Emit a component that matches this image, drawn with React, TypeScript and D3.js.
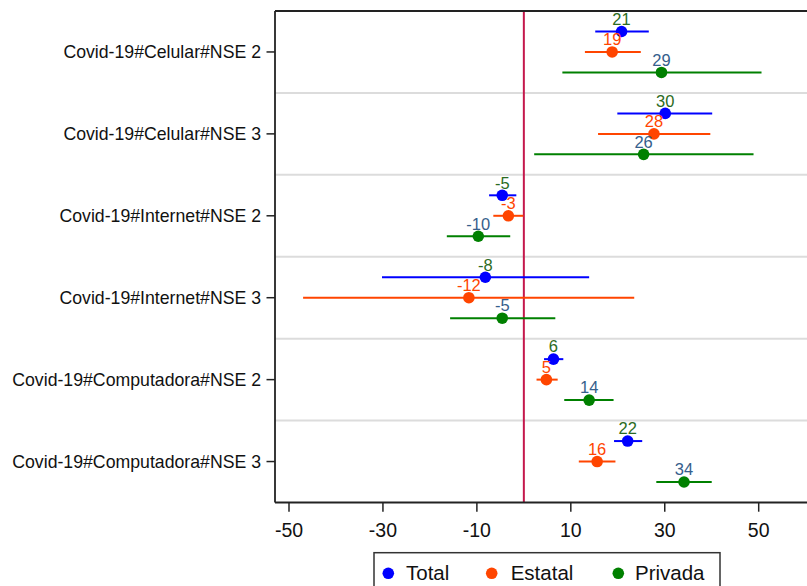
import React from "react";
import * as d3 from "d3";

const categories = [
  "Covid-19#Celular#NSE 2",
  "Covid-19#Celular#NSE 3",
  "Covid-19#Internet#NSE 2",
  "Covid-19#Internet#NSE 3",
  "Covid-19#Computadora#NSE 2",
  "Covid-19#Computadora#NSE 3",
];

const seriesNames = ["Total", "Estatal", "Privada"];

const totalEst = [20.8, 30.1, -4.6, -8.2, 6.3, 22.1];
const totalLo = [15.2, 19.9, -7.4, -30.2, 4.3, 19.2];
const totalHi = [26.6, 40.1, -1.6, 13.9, 8.4, 25.2];
const totalLabels = ["21", "30", "-5", "-8", "6", "22"];

const estatalEst = [18.8, 27.7, -3.3, -11.7, 4.8, 15.6];
const estatalLo = [13.0, 15.8, -6.5, -47.0, 2.7, 11.7];
const estatalHi = [24.9, 39.7, -0.1, 23.5, 7.2, 19.5];
const estatalLabels = ["19", "28", "-3", "-12", "5", "16"];

const privadaEst = [29.3, 25.5, -9.7, -4.6, 13.9, 34.1];
const privadaLo = [8.2, 2.2, -16.4, -15.7, 8.6, 28.2];
const privadaHi = [50.6, 48.9, -2.9, 6.7, 19.1, 40.0];
const privadaLabels = ["29", "26", "-10", "-5", "14", "34"];

const xTicks = [-50, -30, -10, 10, 30, 50];

const markerColors = ["#0000ff", "#ff4500", "#008000"];
const labelColors = ["#2c6b22", "#ff4500", "#36608c"];

const FONT = "Arial, 'Liberation Sans', sans-serif";

export default function App() {
  const W = 807;
  const H = 586;
  const left = 275;
  const top = 11;
  const bottom = 502.5;
  const right = 830;

  const x = d3.scaleLinear().domain([-50, 50]).range([289, 758.7]);
  const y = d3.scaleBand<string>().domain(categories).range([top, bottom]).padding(0);
  const bw = y.bandwidth();

  const series = [
    { est: totalEst, lo: totalLo, hi: totalHi, labels: totalLabels, off: -bw / 4 },
    { est: estatalEst, lo: estatalLo, hi: estatalHi, labels: estatalLabels, off: 0 },
    { est: privadaEst, lo: privadaLo, hi: privadaHi, labels: privadaLabels, off: bw / 4 },
  ];

  const legendX = [388.3, 491.7, 618.3];
  const legendTextX = [406, 510.7, 635];

  return (
    <svg
      width={W}
      height={H}
      style={{ position: "absolute", left: 0, top: 0, display: "block", background: "#fff" }}
      fontFamily={FONT}
    >
      <rect x={0} y={0} width={W} height={H} fill="#ffffff" />
      {/* grid separators */}
      {categories.slice(1).map((c) => (
        <line
          key={"g" + c}
          x1={left}
          x2={right}
          y1={y(c)!}
          y2={y(c)!}
          stroke="#dcdcdc"
          strokeWidth={2}
        />
      ))}
      {/* zero line */}
      <line x1={x(0)} x2={x(0)} y1={top} y2={bottom} stroke="#c4184c" strokeWidth={2} />
      {/* frame */}
      <line x1={left} x2={right} y1={top} y2={top} stroke="#222" strokeWidth={1.8} />
      <line x1={left} x2={left} y1={top} y2={bottom} stroke="#222" strokeWidth={1.8} />
      <line x1={left} x2={right} y1={bottom} y2={bottom} stroke="#222" strokeWidth={1.8} />
      {/* y ticks and labels */}
      {categories.map((c) => {
        const cy = y(c)! + bw / 2;
        return (
          <g key={"y" + c}>
            <line x1={266.5} x2={left} y1={cy} y2={cy} stroke="#222" strokeWidth={1.5} />
            <text x={261} y={cy + 6.3} textAnchor="end" fontSize={17.7} fill="#111">
              {c}
            </text>
          </g>
        );
      })}
      {/* x ticks */}
      {xTicks.map((t) => (
        <g key={"x" + t}>
          <line x1={x(t)} x2={x(t)} y1={bottom} y2={511.7} stroke="#222" strokeWidth={1.5} />
          <text x={x(t)} y={536.7} textAnchor="middle" fontSize={19.5} fill="#111">
            {t}
          </text>
        </g>
      ))}
      {/* data */}
      {series.map((s, si) =>
        categories.map((c, i) => {
          const cy = y(c)! + bw / 2 + s.off;
          return (
            <g key={"d" + si + "-" + i}>
              <line
                x1={x(s.lo[i])}
                x2={x(s.hi[i])}
                y1={cy}
                y2={cy}
                stroke={markerColors[si]}
                strokeWidth={2}
              />
              <circle cx={x(s.est[i])} cy={cy} r={5.8} fill={markerColors[si]} />
              <text
                x={x(s.est[i])}
                y={cy - 6.7}
                textAnchor="middle"
                fontSize={16.5}
                fill={labelColors[si]}
              >
                {s.labels[i]}
              </text>
            </g>
          );
        })
      )}
      {/* legend */}
      <rect x={374} y={552.7} width={346} height={60} fill="#fff" stroke="#333" strokeWidth={1.5} />
      {seriesNames.map((n, i) => (
        <g key={"l" + n}>
          <circle cx={legendX[i]} cy={573.3} r={5.8} fill={markerColors[i]} />
          <text x={legendTextX[i]} y={579.8} fontSize={20.5} fill="#111">
            {n}
          </text>
        </g>
      ))}
    </svg>
  );
}
